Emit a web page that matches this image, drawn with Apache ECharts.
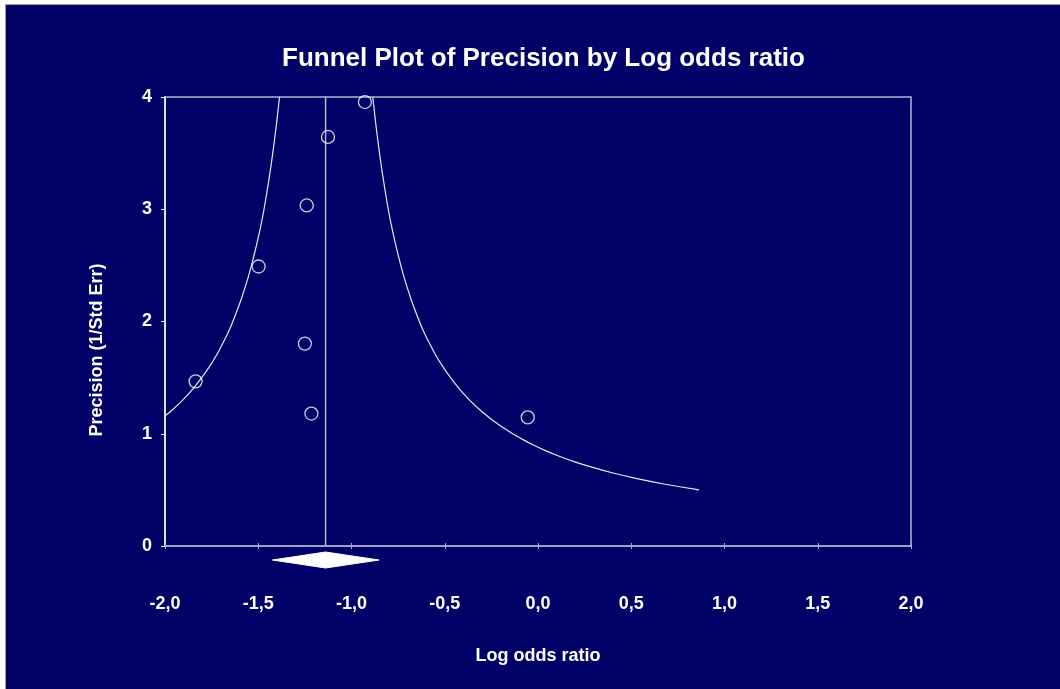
<!DOCTYPE html>
<html>
<head>
<meta charset="utf-8">
<script src="https://cdn.jsdelivr.net/npm/echarts@6/dist/echarts.min.js"></script>
<style>
html,body{margin:0;padding:0;background:#ffffff;}
#main{width:1060px;height:689px;}
</style>
</head>
<body>
<div id="main"></div>
<script>
// Study points: [log odds ratio, precision]
const studyX = [-1.836, -1.498, -1.240, -1.126, -0.928, -1.250, -1.215, -0.055];
const studyY = [1.467, 2.490, 3.034, 3.644, 3.955, 1.803, 1.180, 1.146];
// Pooled estimate and CI (diamond)
const pooled = -1.139;
const pooledLower = -1.424;
const pooledUpper = -0.852;
// Funnel boundaries
const leftFunnelX = [-2.000, -1.969, -1.905, -1.850, -1.803, -1.761, -1.724, -1.692, -1.662, -1.636, -1.591, -1.553, -1.521, -1.493, -1.469, -1.444, -1.422, -1.403, -1.386];
const leftFunnelY = [1.157, 1.2, 1.3, 1.4, 1.5, 1.6, 1.7, 1.8, 1.9, 2.0, 2.2, 2.4, 2.6, 2.8, 3.0, 3.25, 3.5, 3.75, 4.0];
const rightFunnelX = [-0.886, -0.869, -0.850, -0.828, -0.803, -0.779, -0.751, -0.719, -0.681, -0.636, -0.610, -0.580, -0.548, -0.511, -0.469, -0.422, -0.367, -0.303, -0.227, -0.136, -0.083, -0.025, 0.040, 0.114, 0.197, 0.293, 0.402, 0.531, 0.682, 0.864];
const rightFunnelY = [4.0, 3.75, 3.5, 3.25, 3.0, 2.8, 2.6, 2.4, 2.2, 2.0, 1.9, 1.8, 1.7, 1.6, 1.5, 1.4, 1.3, 1.2, 1.1, 1.0, 0.95, 0.9, 0.85, 0.8, 0.75, 0.7, 0.65, 0.6, 0.55, 0.5];
const xTicks = [-2, -1.5, -1, -0.5, 0, 0.5, 1, 1.5, 2];
const yTicks = [0, 1, 2, 3, 4];

const zip = (a, b) => a.map((v, i) => [v, b[i]]);
const FONT = '"Liberation Sans", Arial, sans-serif';
const fmtX = v => Number(v).toFixed(1).replace('.', ',');

const chart = echarts.init(document.getElementById('main'), null, {renderer: 'canvas'});
const option = {
  backgroundColor: '#ffffff',
  animation: false,
  graphic: [{
    type: 'rect', z: -10, silent: true,
    shape: {x: 5.5, y: 4.5, width: 1060, height: 690},
    style: {fill: '#000066', stroke: '#a0a0a0', lineWidth: 1}
  }, {
    type: 'text', silent: true, z: 10,
    x: 97.5, y: 350, rotation: Math.PI / 2,
    style: {
      text: 'Precision (1/Std Err)', fill: '#ffffff', fontSize: 18, fontWeight: 'bold',
      fontFamily: FONT, align: 'center', verticalAlign: 'middle'
    }
  }],
  title: {
    text: 'Funnel Plot of Precision by Log odds ratio',
    left: 277, top: 41,
    textStyle: {color: '#ffffff', fontSize: 26, fontWeight: 'bold', fontFamily: FONT}
  },
  grid: {
    left: 165, top: 97, right: 149, bottom: 143,
    show: true, borderColor: '#b4b4d4', borderWidth: 1.5, backgroundColor: 'transparent'
  },
  xAxis: [{
    type: 'value', min: xTicks[0], max: xTicks[xTicks.length - 1], interval: 0.5,
    position: 'bottom',
    name: 'Log odds ratio', nameLocation: 'middle', nameGap: 101,
    nameTextStyle: {color: '#ffffff', fontSize: 18, fontWeight: 'bold', fontFamily: FONT},
    axisLine: {show: true, onZero: false, lineStyle: {color: '#a8a8d0', width: 1.5}},
    axisTick: {show: true, inside: false, length: 3, lineStyle: {color: '#a8a8d0', width: 1}},
    axisLabel: {color: '#ffffff', fontSize: 18, fontWeight: 'bold', fontFamily: FONT, margin: 49, formatter: fmtX},
    splitLine: {show: false}
  }, {
    type: 'value', min: xTicks[0], max: xTicks[xTicks.length - 1], interval: 0.5,
    position: 'bottom', offset: 0,
    axisLine: {show: false},
    axisTick: {show: true, inside: true, length: 3, lineStyle: {color: '#a8a8d0', width: 1}},
    axisLabel: {show: false},
    splitLine: {show: false}
  }],
  yAxis: {
    type: 'value', min: yTicks[0], max: yTicks[yTicks.length - 1], interval: 1,
    axisLine: {show: true, onZero: false, lineStyle: {color: '#ffffff', width: 1.5}},
    axisTick: {show: true, inside: false, length: 4, lineStyle: {color: '#ffffff', width: 1}},
    axisLabel: {color: '#ffffff', fontSize: 18, fontWeight: 'bold', fontFamily: FONT, margin: 13},
    splitLine: {show: false}
  },
  series: [
    {
      type: 'line', data: zip(leftFunnelX, leftFunnelY), smooth: 0.2, symbol: 'none',
      lineStyle: {color: '#e8e8f4', width: 1.2}, z: 3
    },
    {
      type: 'line', data: zip(rightFunnelX, rightFunnelY), smooth: 0.2, symbol: 'none',
      lineStyle: {color: '#e8e8f4', width: 1.2}, z: 3
    },
    {
      type: 'line', data: [[pooled, yTicks[0]], [pooled, yTicks[yTicks.length - 1]]], symbol: 'none',
      lineStyle: {color: '#b4b4d4', width: 1.5}, z: 2
    },
    {
      type: 'scatter', data: zip(studyX, studyY), symbol: 'circle', symbolSize: 13,
      itemStyle: {color: 'transparent', borderColor: '#ffffff', borderWidth: 1.3}, z: 5
    },
    {
      type: 'custom', clip: false, z: 6,
      data: [[pooledLower, pooled, pooledUpper]],
      renderItem: function (params, api) {
        const l = api.coord([api.value(0), 0]);
        const c = api.coord([api.value(1), 0]);
        const u = api.coord([api.value(2), 0]);
        const cy = c[1] + 14, h = 8;
        return {
          type: 'polygon',
          shape: {points: [[l[0], cy], [c[0], cy - h], [u[0], cy], [c[0], cy + h]]},
          style: {fill: '#ffffff', stroke: '#ffffff', lineWidth: 1}
        };
      }
    }
  ]
};
chart.setOption(option);
</script>
</body>
</html>
